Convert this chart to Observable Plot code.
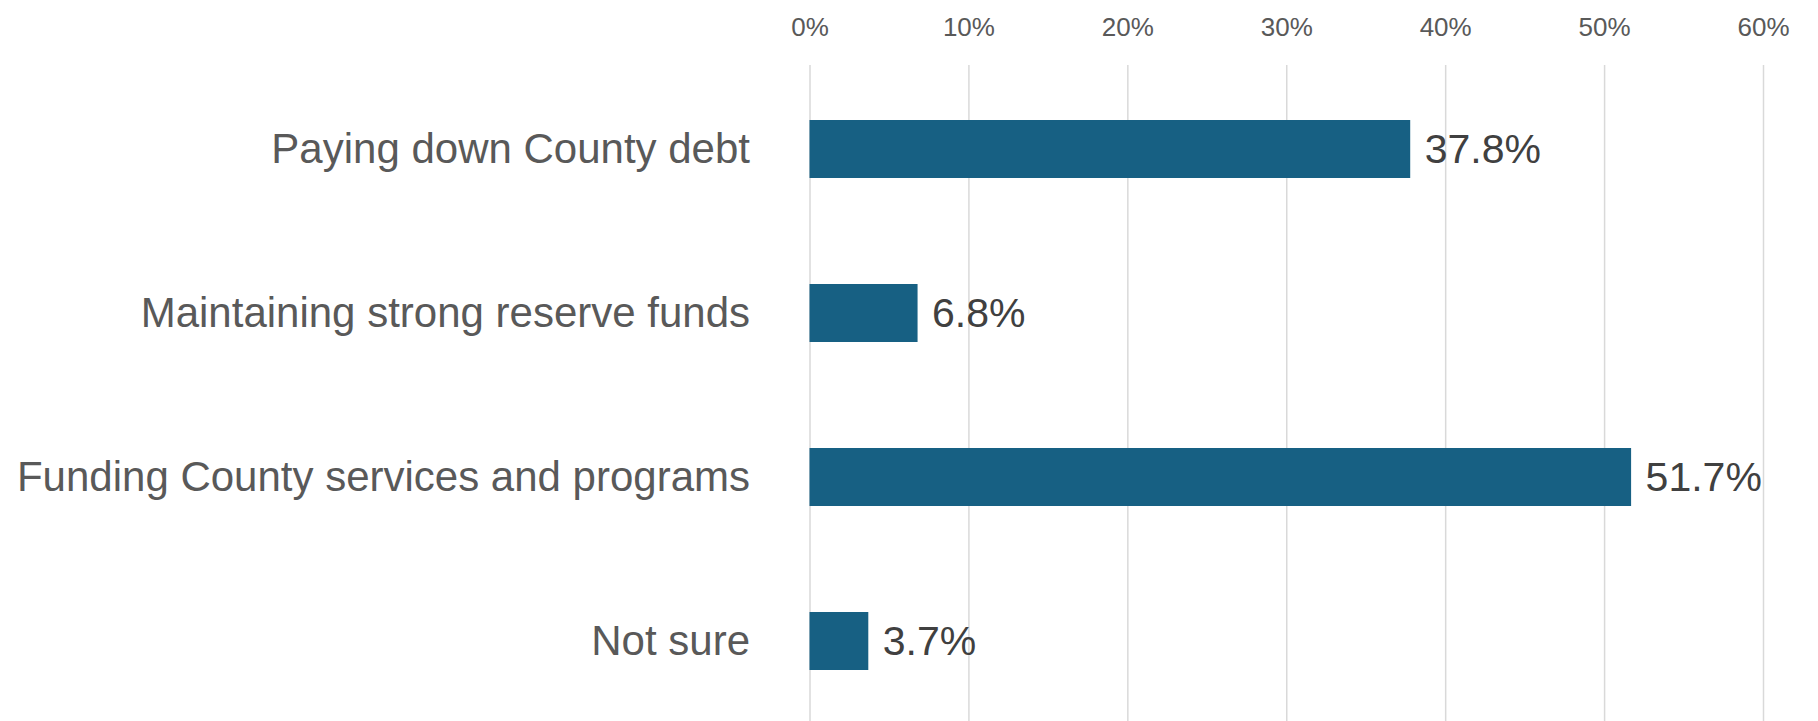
<!DOCTYPE html>
<html>
<head>
<meta charset="utf-8">
<script src="https://cdn.jsdelivr.net/npm/d3@7"></script>
<script src="https://cdn.jsdelivr.net/npm/@observablehq/plot@0.6"></script>
<style>
  html, body { margin: 0; padding: 0; background: #fff; }
  #chart svg { display: block; }
</style>
</head>
<body>
<div id="chart"></div>
<script>
const categories = [
  "Paying down County debt",
  "Maintaining strong reserve funds",
  "Funding County services and programs",
  "Not sure"
];
const values = [0.378, 0.068, 0.517, 0.037];
const valueLabels = ["37.8%", "6.8%", "51.7%", "3.7%"];
const xTicks = [0, 0.1, 0.2, 0.3, 0.4, 0.5, 0.6];

const data = categories.map((c, i) => ({category: c, value: values[i], label: valueLabels[i]}));

const font = "'Liberation Sans', Arial, sans-serif";

const chart = Plot.plot({
  width: 1818,
  height: 721,
  marginLeft: 809.5,
  marginRight: 55,
  marginTop: 65,
  marginBottom: 0,
  style: {fontFamily: font, background: "#fff"},
  x: {domain: [0, 0.6], axis: null},
  y: {domain: categories, range: [66, 724], paddingInner: 0.647, paddingOuter: 0.3235, axis: null},
  marks: [
    Plot.gridX(xTicks, {stroke: "#d9d9d9", strokeOpacity: 1, strokeWidth: 1.5}),
    Plot.axisX(xTicks, {anchor: "top", tickSize: 0, tickPadding: 30, tickFormat: d => Math.round(d * 100) + "%", fontSize: 26, fill: "#595959", label: null}),
    Plot.axisY({anchor: "left", tickSize: 0, tickPadding: 60, fontSize: 42, fill: "#595959", label: null}),
    Plot.barX(data, {x: "value", y: "category", fill: "#176083"}),
    Plot.text(data, {x: "value", y: "category", text: "label", dx: 14, textAnchor: "start", fontSize: 41, fill: "#404040"})
  ]
});
document.getElementById("chart").appendChild(chart);
</script>
</body>
</html>
